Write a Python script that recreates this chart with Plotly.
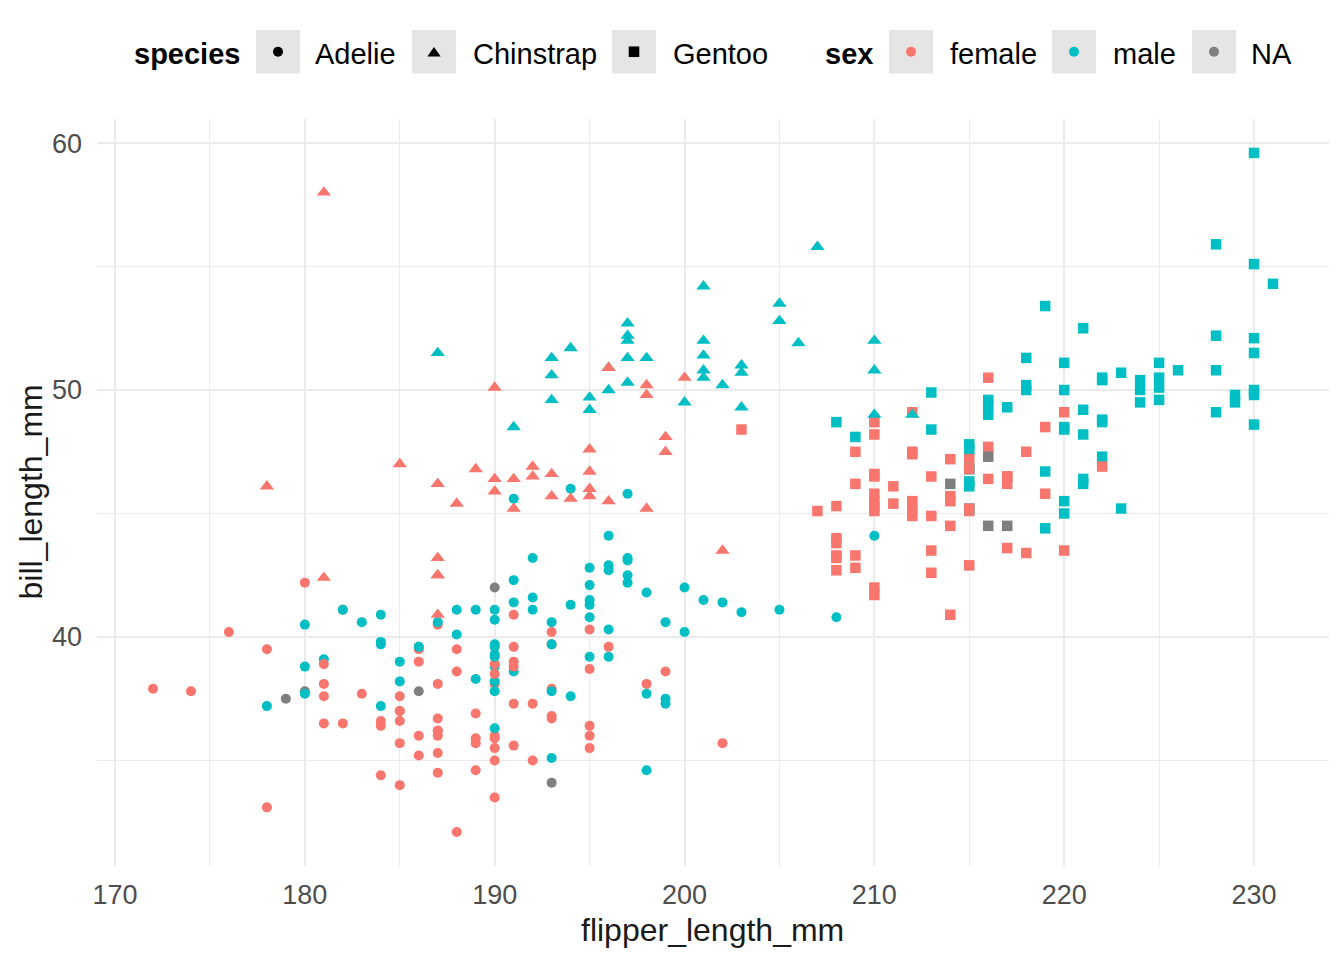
import plotly.graph_objects as go

W, H = 1344, 960

# ---------------- data (palmer penguins, rows with measurements) ----------------
adelie_bill = [39.1,39.5,40.3,36.7,39.3,38.9,39.2,34.1,42.0,37.8,37.8,41.1,38.6,34.6,36.6,38.7,42.5,34.4,46.0,
               37.8,37.7,35.9,38.2,38.8,35.3,40.6,40.5,37.9,40.5,
               39.5,37.2,39.5,40.9,36.4,39.2,38.8,42.2,37.6,39.8,36.5,40.8,36.0,44.1,37.0,39.6,41.1,37.5,36.0,42.3,
               39.6,40.1,35.0,42.0,34.5,41.4,39.0,40.6,36.5,37.6,35.7,41.3,37.6,41.1,36.4,41.6,35.5,41.1,
               35.9,41.8,33.5,39.7,39.6,45.8,35.5,42.8,40.9,37.2,36.2,42.1,34.6,42.9,36.7,35.1,
               37.3,41.3,36.3,36.9,38.3,38.9,35.7,41.1,34.0,39.6,36.2,40.8,38.1,40.3,33.1,43.2,
               35.0,41.0,37.7,37.8,37.9,39.7,38.6,38.2,38.1,43.2,38.1,45.6,39.7,42.2,39.6,42.7,
               38.6,37.3,35.7,41.1,36.2,37.7,40.2,41.4,35.2,40.6,38.8,41.5,39.0,44.1,38.5,43.1,
               36.8,37.5,38.1,41.1,35.6,40.2,37.0,39.7,40.2,40.6,32.1,40.7,37.3,39.0,39.2,36.6,36.0,37.8,36.0,41.5]
adelie_flipper = [181,186,195,193,190,181,195,193,190,186,180,182,191,198,185,195,197,184,194,
                  174,180,189,185,180,187,183,187,172,180,
                  178,178,188,184,195,196,190,180,181,184,182,195,186,196,185,190,182,179,190,191,
                  186,188,190,200,187,191,186,193,181,194,185,195,185,192,184,192,195,188,
                  190,198,190,190,196,197,190,195,191,184,187,195,189,196,187,193,
                  191,194,190,189,189,190,202,205,185,186,187,208,190,196,178,192,
                  192,203,183,190,193,184,199,190,181,197,198,191,193,197,191,196,
                  188,199,189,189,187,198,176,202,186,199,191,195,191,210,190,197,
                  193,199,187,190,191,200,185,193,193,187,188,190,192,185,190,184,195,193,187,201]
adelie_sex = (["male","female","female","female","male","female","male","NA","NA","NA","NA","female","male","male","female","female","male","female","male"]
              + ["female","male","female","male","male","female","male","female","female","male"]
              + ["female","male","female","male","female","male","male","female","female","male","female","male","female","male","female","male","male","NA","female","male"]
              + ["female","male"] * 9
              + ["female","male"] * 8
              + ["female","male","male","female","male","female","female","male","female","male","female","male","female","male","female","male"]
              + ["female","male"] * 8
              + ["female","male"] * 8
              + ["female","male","female","male","female","male","female","male","female","male","female","male","female","male","male","female","female","male","female","male"])

gentoo_bill = [46.1,50.0,48.7,50.0,47.6,46.5,45.4,46.7,43.3,46.8,40.9,49.0,45.5,48.4,45.8,49.3,42.0,49.2,46.2,48.7,
               50.2,45.1,46.5,46.3,42.9,46.1,44.5,47.8,48.2,50.0,47.3,42.8,45.1,59.6,
               49.1,48.4,42.6,44.4,44.0,48.7,42.7,49.6,45.3,49.6,50.5,43.6,45.5,50.5,44.9,45.2,46.6,48.5,45.1,50.1,
               46.5,45.0,43.8,45.5,43.2,50.4,45.3,46.2,45.7,54.3,45.8,49.8,46.2,49.5,43.5,50.7,47.7,46.4,48.2,46.5,
               46.4,48.6,47.5,51.1,45.2,45.2,
               49.1,52.5,47.4,50.0,44.9,50.8,43.4,51.3,47.5,52.1,47.5,52.2,45.5,49.5,44.5,50.8,49.4,46.9,48.4,51.1,
               48.5,55.9,47.2,49.1,47.3,46.8,41.7,53.4,43.3,48.1,50.5,49.8,43.5,51.5,46.2,55.1,44.5,48.8,47.2,46.8,
               50.4,45.2,49.9]
gentoo_flipper = [211,230,210,218,215,210,211,219,209,215,214,216,214,213,210,217,210,221,209,222,
                  218,215,213,215,215,215,216,215,210,220,222,209,207,230,
                  220,220,213,219,208,208,208,225,210,216,222,217,210,225,213,215,210,220,210,225,
                  217,220,208,220,208,224,208,221,214,231,219,230,214,229,220,223,216,221,221,217,
                  216,230,209,220,215,223,
                  212,221,212,224,212,228,218,218,212,230,218,228,212,224,214,226,216,222,203,225,
                  219,228,215,228,216,215,210,219,208,209,216,229,213,230,217,230,217,222,214,215,
                  222,212,213]
gentoo_sex = (["female","male","female","male","male","female","female","male","female","male","female","male","female","male","female","male","female","male","female","male",
               "male","female","female","male","female","male","NA","male","female","male","male","female","female","male"]
              + ["female","male","female","male","female","male","female","male","female","male","male","female","female","male","female","male","female","male","female","male",
                 "female","male","female","male","female","male","female","male","female","male","female","male","NA","male","female","male","female","male","male","female",
                 "female","male","female","male","female","male"]
              + ["female","male"] * 8
              + ["male","female","female","male","female","male","female","male","NA","male","female","male","female","male","female","male","female","male","female","male",
                 "NA","male","female","female","male","female","male"])

chinstrap_bill = [46.5,50.0,51.3,45.4,52.7,45.2,46.1,51.3,46.0,51.3,46.6,51.7,47.0,52.0,45.9,50.5,50.3,58.0,46.4,49.2,
                  42.4,48.5,43.2,50.6,46.7,52.0,50.5,49.5,46.4,52.8,40.9,54.2,42.5,51.0,49.7,47.5,47.6,52.0,46.9,53.5,
                  49.0,46.2,50.9,45.5,50.9,50.8,50.1,49.0,51.5,49.8,48.1,51.4,45.7,50.7,42.5,52.2,45.2,49.3,50.2,45.6,
                  51.9,46.8,45.7,55.8,43.5,49.6,50.8,50.2]
chinstrap_flipper = [192,196,193,188,197,198,178,197,195,198,193,194,185,201,190,201,197,181,190,195,
                     181,191,187,193,195,197,200,200,191,205,187,201,187,203,195,199,195,210,192,205,
                     210,187,196,196,196,201,190,212,187,198,199,201,193,203,187,197,191,203,202,194,
                     206,189,195,207,202,193,210,198]
chinstrap_sex = (["female","male","male","female","male","female","female","male","female","male","female","male","female",
                  "male","female","male","male","female","female","male","female","male","female","male","female","male"]
                 + ["female","male","female","male","female","male","female","male","male","female","female","male","female",
                    "male","male","female","male","female"]
                 + ["female","male","female","male","male","female","female","male","female","male","female","male","female",
                    "male","male","female","male","female","female","male","female","male","male","female"])

x_ticks = [170, 180, 190, 200, 210, 220, 230]
y_ticks = [40, 50, 60]
species_levels = ["Adelie", "Chinstrap", "Gentoo"]
sex_levels = ["female", "male", "NA"]

# ---------------- styling ----------------
sex_colors = {"female": "#F8766D", "male": "#00BFC4", "NA": "#7F7F7F"}
species_symbols = {"Adelie": "circle", "Chinstrap": "triangle-up", "Gentoo": "square"}
species_sizes = {"Adelie": 10, "Chinstrap": 12.5, "Gentoo": 10.5}

# dataset order: Adelie, Gentoo, Chinstrap (ggplot draws in row order)
xs, ys, cols, syms, sizes, texts = [], [], [], [], [], []
for sp, bills, flips, sexes in [("Adelie", adelie_bill, adelie_flipper, adelie_sex),
                                ("Gentoo", gentoo_bill, gentoo_flipper, gentoo_sex),
                                ("Chinstrap", chinstrap_bill, chinstrap_flipper, chinstrap_sex)]:
    for b, f, s in zip(bills, flips, sexes):
        xs.append(f); ys.append(b)
        cols.append(sex_colors[s]); syms.append(species_symbols[sp]); sizes.append(species_sizes[sp])
        texts.append(f"{sp}, {s}")

# panel geometry (pixels)
PL, PR, PT, PB = 97, 1329, 119, 866
xmin, xmax = min(xs), max(xs)
ymin, ymax = min(ys), max(ys)
xpad = (xmax - xmin) * 0.05
ypad = (ymax - ymin) * 0.05

fig = go.Figure()
fig.add_trace(go.Scatter(
    x=xs, y=ys, mode="markers", text=texts,
    marker=dict(color=cols, symbol=syms, size=sizes, opacity=1, line=dict(width=0)),
    hovertemplate="%{text}<br>flipper %{x}<br>bill %{y}<extra></extra>",
    showlegend=False,
))

FONT = "Arial, Liberation Sans, sans-serif"
grid_major = "#EBEBEB"

fig.update_layout(
    width=W, height=H,
    margin=dict(l=0, r=0, t=0, b=0, pad=0),
    paper_bgcolor="white", plot_bgcolor="white",
    font=dict(family=FONT, color="#000000"),
    showlegend=False,
    xaxis=dict(domain=[PL / W, PR / W], range=[xmin - xpad, xmax + xpad],
               tickvals=x_ticks, ticktext=[str(v) for v in x_ticks],
               showgrid=True, gridcolor=grid_major, gridwidth=2,
               zeroline=False, showline=False, ticks="", ticklabelstandoff=10,
               tickfont=dict(size=27, color="#4D4D4D", family=FONT),
               minor=dict(dtick=5, tick0=165, showgrid=True, gridcolor=grid_major, gridwidth=1),
               automargin=False, fixedrange=True),
    yaxis=dict(domain=[1 - PB / H, 1 - PT / H], range=[ymin - ypad, ymax + ypad],
               tickvals=y_ticks, ticktext=[str(v) for v in y_ticks],
               showgrid=True, gridcolor=grid_major, gridwidth=2,
               zeroline=False, showline=False, ticks="", ticklabelstandoff=14,
               tickfont=dict(size=27, color="#4D4D4D", family=FONT),
               minor=dict(dtick=5, tick0=35, showgrid=True, gridcolor=grid_major, gridwidth=1),
               automargin=False, fixedrange=True),
)

def px(x):
    return x / W

def py(y):
    return 1 - y / H

ann = []
ann.append(dict(text="flipper_length_mm", x=px((PL + PR) / 2), y=py(930), xref="paper", yref="paper",
                xanchor="center", yanchor="middle", showarrow=False,
                font=dict(size=32, color="#1A1A1A", family=FONT)))
ann.append(dict(text="bill_length_mm", x=px(30), y=py((PT + PB) / 2), xref="paper", yref="paper",
                xanchor="center", yanchor="middle", showarrow=False, textangle=-90,
                font=dict(size=32, color="#1A1A1A", family=FONT)))

# ---------------- manual legend ----------------
KEY_T, KEY_B = 30, 73.5
KEY_C = (KEY_T + KEY_B) / 2
TEXT_Y = 54
shapes = []

def add_text(t, x, bold=False):
    ann.append(dict(text=f"<b>{t}</b>" if bold else t, x=px(x), y=py(TEXT_Y), xref="paper", yref="paper",
                    xanchor="left", yanchor="middle", showarrow=False, borderpad=0,
                    font=dict(size=29, color="#000000", family=FONT)))

def add_key(x0, x1):
    shapes.append(dict(type="rect", xref="paper", yref="paper", x0=px(x0), x1=px(x1), y0=py(KEY_B), y1=py(KEY_T),
                       fillcolor="#E5E5E5", line=dict(width=0), layer="above"))

def add_circle(cx, cy, r, color):
    shapes.append(dict(type="circle", xref="paper", yref="paper", x0=px(cx - r), x1=px(cx + r),
                       y0=py(cy + r), y1=py(cy - r), fillcolor=color, line=dict(width=0), layer="above"))

species_keys = {"Adelie": (256, 300, 314), "Chinstrap": (412, 456, 472), "Gentoo": (612, 656, 672)}
sex_keys = {"female": (889, 933, 949), "male": (1052, 1096, 1112), "NA": (1192, 1236, 1250)}

add_text("species", 133, bold=True)
for sp in species_levels:
    k0, k1, tx = species_keys[sp]
    add_key(k0, k1)
    cx = (k0 + k1) / 2
    if sp == "Adelie":
        add_circle(cx, KEY_C, 5, "#000000")
    elif sp == "Chinstrap":
        hw, h = 6.7, 9.5
        path = (f"M {px(cx - hw)},{py(KEY_C + h / 2)} L {px(cx + hw)},{py(KEY_C + h / 2)} "
                f"L {px(cx)},{py(KEY_C - h / 2)} Z")
        shapes.append(dict(type="path", xref="paper", yref="paper", path=path,
                           fillcolor="#000000", line=dict(width=0), layer="above"))
    else:
        s = 5.3
        shapes.append(dict(type="rect", xref="paper", yref="paper", x0=px(cx - s), x1=px(cx + s),
                           y0=py(KEY_C + s), y1=py(KEY_C - s), fillcolor="#000000", line=dict(width=0),
                           layer="above"))
    add_text(sp, tx)

add_text("sex", 824, bold=True)
for sx in sex_levels:
    k0, k1, tx = sex_keys[sx]
    add_key(k0, k1)
    add_circle((k0 + k1) / 2, KEY_C, 5, sex_colors[sx])
    add_text(sx, tx)

fig.update_layout(annotations=ann, shapes=shapes)

fig.write_html("out.html", config={"displayModeBar": False},
               post_script="document.body.style.margin='0';document.body.style.overflow='hidden';")
